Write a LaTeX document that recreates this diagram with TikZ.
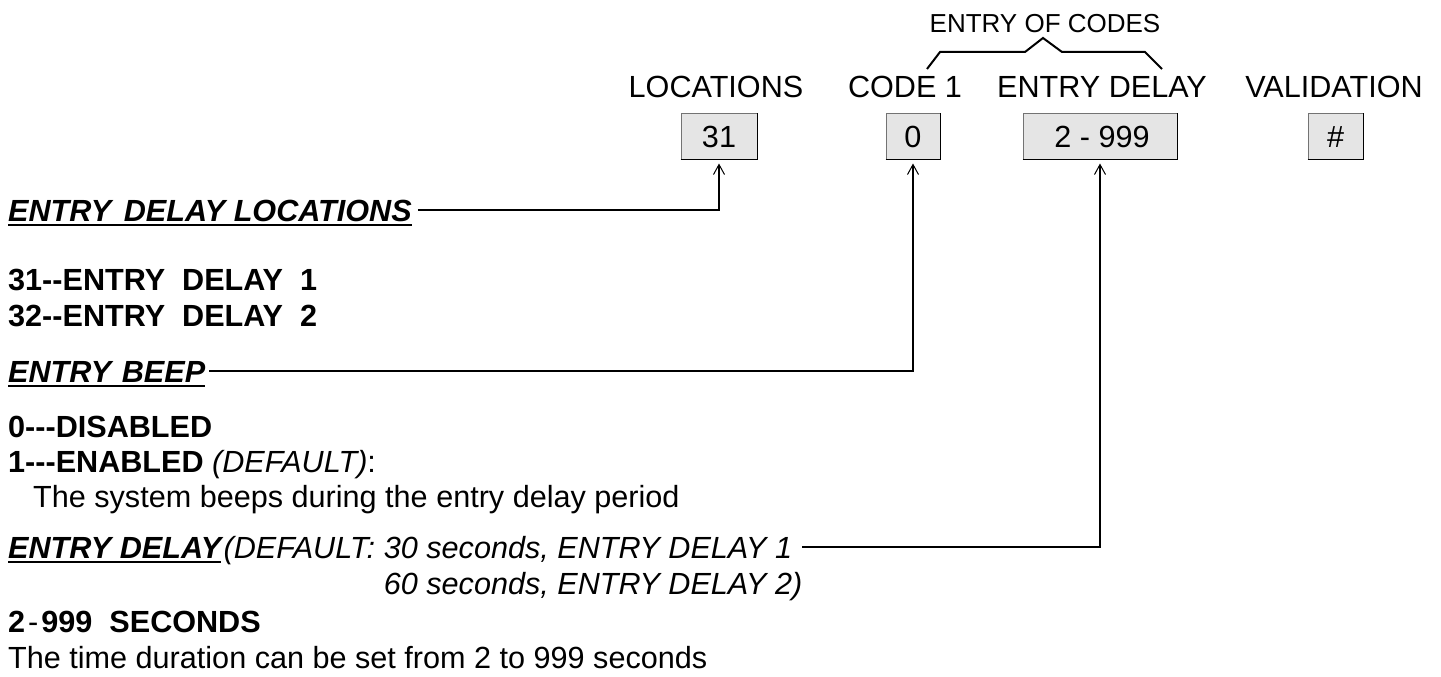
\documentclass[tikz,border=0pt]{standalone}
\usepackage{fontspec}
\setmainfont{Liberation Sans}
\usetikzlibrary{arrows.meta}
\newcommand{\bigfont}{\fontsize{30.6}{36}\selectfont}
\tikzset{
  lbl/.style={font=\bigfont, inner sep=0pt, anchor=base},
  txt/.style={font=\bigfont, inner sep=0pt, anchor=base west},
  keybox/.style={font=\bigfont, inner sep=0pt, fill=black!10, draw=black!55, line width=1pt,
                 minimum height=46pt, text height=22pt, text depth=0pt},
  keyedge/.style={line width=1.8pt, black},
  conn/.style={line width=1.8pt, black, -{Straight Barb[length=10pt,width=11pt,line width=1pt]}},
  brace/.style={line width=2pt, black, line join=miter},
  uline/.style={line width=2pt, black}
}
\begin{document}
\begin{tikzpicture}[x=1pt,y=-1pt]
\useasboundingbox (0,0) rectangle (1441,677);
% header
\node[lbl, font=\fontsize{26}{30}\selectfont] (codes) at (1045,33) {ENTRY OF CODES};
\coordinate (brA) at (927,69);
\coordinate (brB) at (940,52);
\coordinate (brC) at (1025,52);
\coordinate (brD) at (1043,38);
\coordinate (brE) at (1062,52);
\coordinate (brF) at (1145,52);
\coordinate (brG) at (1162,69);
\draw[brace] (brA) -- (brB) -- (brC) -- (brD) -- (brE) -- (brF) -- (brG);
\node[lbl] (hLoc) at (716,98) {LOCATIONS};
\node[lbl] (hCode) at (905,98) {CODE 1};
\node[lbl] (hDel) at (1102,98) {ENTRY DELAY};
\node[lbl] (hVal) at (1334,98) {VALIDATION};
% boxes
\node[keybox, minimum width=76pt] (b31) at (719,136) {31};
\node[keybox, minimum width=54pt] (b0) at (913,136) {0};
\node[keybox, minimum width=154pt] (b999) at (1100,136) {\hspace{4pt}2 - 999};
\node[keybox, minimum width=55pt] (bHash) at (1335.5,136) {\#};
\foreach \b in {b31,b0,b999,bHash}{
  \draw[keyedge] (\b.south west) -- (\b.south east) -- (\b.north east);
}
% left texts
\node[txt, font=\bigfont\bfseries\itshape] (tLoc) at (8,221) {ENTRY\ \hspace{4pt}DELAY LOCATIONS};
\draw[uline] ([yshift=-4pt]tLoc.base west) -- ([yshift=-4pt]tLoc.base east);
\node[txt, font=\bigfont\bfseries] (t31) at (8,290) {31-{}-ENTRY\ \ DELAY\ \ 1};
\node[txt, font=\bigfont\bfseries] (t32) at (8,326) {32-{}-ENTRY\ \ DELAY\ \ 2};
\node[txt, font=\bigfont\bfseries\itshape] (tBeep) at (8,382) {ENTRY\ \hspace{2pt}BEEP};
\draw[uline] ([yshift=-4pt]tBeep.base west) -- ([yshift=-4pt]tBeep.base east);
\node[txt, font=\bigfont\bfseries] (t0) at (8,437) {0-{}-{}-DISABLED};
\node[txt] (t1) at (8,472) {\textbf{1-{}-{}-ENABLED} \textit{(DEFAULT)}:};
\node[txt] (tSys) at (33,507) {The system beeps during the entry delay period};
\node[txt, font=\bigfont\bfseries\itshape] (tDel) at (8,558) {ENTRY DELAY};
\draw[uline] ([yshift=-4pt]tDel.base west) -- ([yshift=-4pt]tDel.base east);
\node[txt, font=\bigfont\itshape] (tDef) at ([xshift=2pt]tDel.base east) {(DEFAULT:\ \hspace{4pt}};
\node[txt, font=\bigfont\itshape] (t30) at (tDef.base east) {30 seconds, ENTRY DELAY 1};
\node[txt, font=\bigfont\itshape] (t60) at ([yshift=-36pt]t30.base west) {60 seconds, ENTRY DELAY 2)};
\node[txt, font=\bigfont\bfseries] (tSec) at (8,632) {2\hspace{3pt}{\mdseries -}\hspace{3pt}999\ \ SECONDS};
\node[txt] (tTime) at (8,668) {The time duration can be set from 2 to 999 seconds};
% connectors
\coordinate (cLoc) at ([xshift=6pt,yshift=11pt]tLoc.base east);
\coordinate (cBeep) at ([xshift=4pt,yshift=11pt]tBeep.base east);
\coordinate (cDel) at ([xshift=10pt,yshift=11pt]t30.base east);
\draw[conn] (cLoc) -| ([yshift=-4pt]b31.south);
\draw[conn] (cBeep) -| ([yshift=-4pt]b0.south);
\draw[conn] (cDel) -| ([yshift=-4pt]b999.south);
\end{tikzpicture}
\end{document}
